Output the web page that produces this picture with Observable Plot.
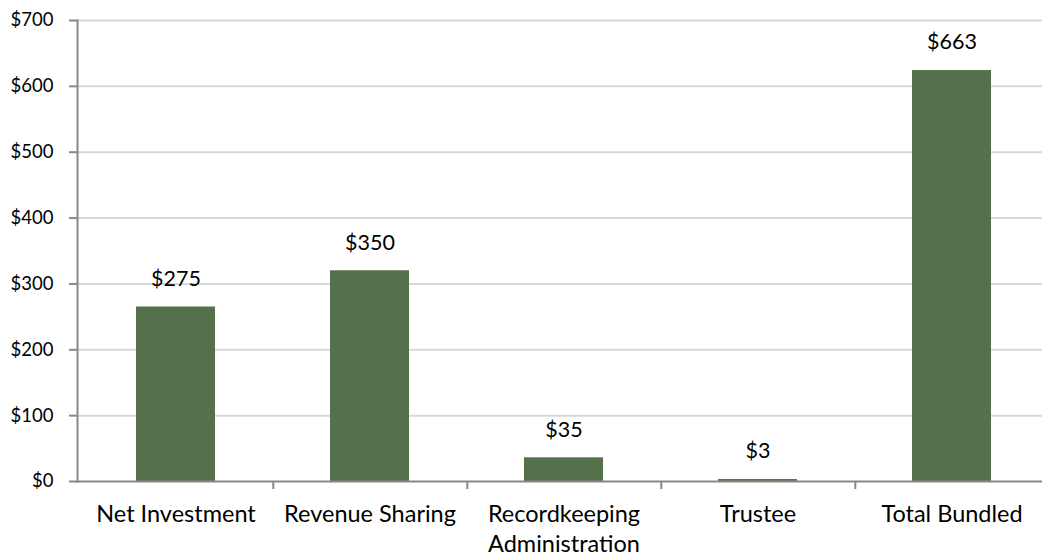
<!DOCTYPE html>
<html>
<head>
<meta charset="utf-8">
<script src="https://cdn.jsdelivr.net/npm/d3@7"></script>
<script src="https://cdn.jsdelivr.net/npm/@observablehq/plot@0.6"></script>
<style>
  html, body { margin: 0; padding: 0; background: white; overflow: hidden; }
  #chart svg { font-family: Lato, "Open Sans", sans-serif; }
</style>
</head>
<body>
<div id="chart"></div>
<script>
// Categories along the x axis
const categories = ["Net Investment", "Revenue Sharing", "Recordkeeping Administration", "Trustee", "Total Bundled"];
// Bar heights as drawn in the picture
const barValues = [265, 320, 36, 3, 624];
// Data labels printed above the bars
const barLabels = ["$275", "$350", "$35", "$3", "$663"];
// Y-axis ticks
const yTicks = [0, 100, 200, 300, 400, 500, 600, 700];

const data = categories.map((c, i) => ({category: c, value: barValues[i], label: barLabels[i]}));

const W = 1042, H = 559;
const xRange = [77, 1050];
const step = (xRange[1] - xRange[0]) / categories.length;

const chart = Plot.plot({
  width: W,
  height: H,
  marginTop: 20,
  marginBottom: 78,
  marginLeft: 77,
  marginRight: 0,
  x: {domain: categories, range: xRange, paddingInner: 0.594, paddingOuter: 0.297, axis: null, label: null},
  y: {domain: [0, 700], axis: null, label: null},
  marks: [
    Plot.ruleY(yTicks.slice(1), {stroke: "#d9d9d9", strokeWidth: 2}),
    Plot.barY(data, {x: "category", y: "value", fill: "#55714b"}),
    Plot.ruleY([0], {stroke: "#888888", strokeWidth: 2}),
    Plot.frame({anchor: "left", stroke: "#888888", strokeWidth: 2}),
    Plot.axisY({
      ticks: yTicks,
      tickSize: 8,
      tickPadding: 16,
      tickFormat: d => "$" + d,
      stroke: "#888888",
      strokeWidth: 2,
      fill: "#000",
      fontSize: 18.5,
      label: null
    }),
    Plot.axisX({
      tickSize: 8,
      dx: step / 2,
      text: null,
      stroke: "#888888",
      strokeWidth: 2,
      label: null
    }),
    Plot.axisX({
      tickSize: 0,
      tickPadding: 20,
      tickFormat: d => d === "Recordkeeping Administration" ? "Recordkeeping\nAdministration" : d,
      fill: "#000",
      fontSize: 23.5,
      lineHeight: 1.25,
      label: null
    }),
    Plot.text(data, {x: "category", y: "value", text: "label", dy: -28, fontSize: 21.5, fill: "#000"})
  ]
});

document.getElementById("chart").appendChild(chart);
</script>
</body>
</html>
